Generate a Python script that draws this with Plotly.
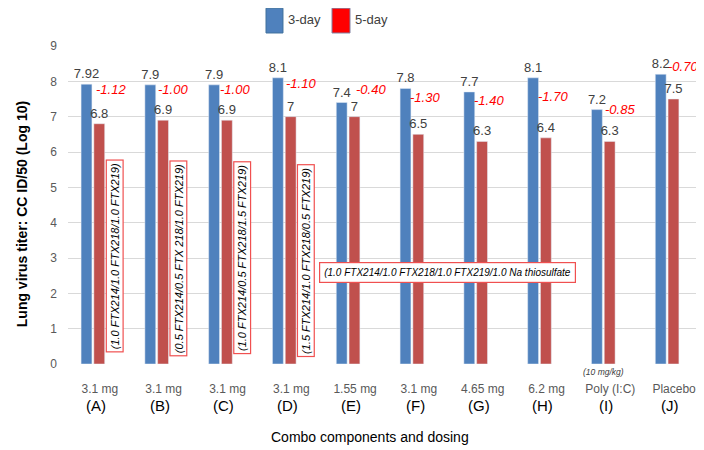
import plotly.graph_objects as go

doses = ['3.1 mg', '3.1 mg', '3.1 mg', '3.1 mg', '1.55 mg', '3.1 mg', '4.65 mg', '6.2 mg', 'Poly (I:C)', 'Placebo']
letters = ['(A)', '(B)', '(C)', '(D)', '(E)', '(F)', '(G)', '(H)', '(I)', '(J)']
day3 = [7.92, 7.9, 7.9, 8.1, 7.4, 7.8, 7.7, 8.1, 7.2, 8.2]
day5 = [6.8, 6.9, 6.9, 7, 7, 6.5, 6.3, 6.4, 6.3, 7.5]
change = [-1.12, -1.00, -1.00, -1.10, -0.40, -1.30, -1.40, -1.70, -0.85, -0.70]
combos = ['(1.0 FTX214/1.0 FTX218/1.0 FTX219)',
          '(0.5 FTX214/0.5 FTX 218/1.0 FTX219)',
          '(1.0 FTX214/0.5 FTX218/1.5 FTX219)',
          '(1.5 FTX214/1.0 FTX218/0.5 FTX219)']
combo_e = '(1.0 FTX214/1.0 FTX218/1.0 FTX219/1.0 Na thiosulfate'

# where the hand placed labels sit (x offset from group centre, y in data units)
change_dx = [0.025, -0.008, -0.032, -0.007, 0.09, -0.06, -0.06, -0.06, -0.007, -0.015]
change_y = [7.76, 7.76, 7.76, 7.93, 7.76, 7.53, 7.47, 7.56, 7.19, 8.41]
combo_y = [3.06, 3.0, 3.0, 2.94]

idx = list(range(len(doses)))
font = 'Liberation Sans, Arial, sans-serif'

fig = go.Figure()
fig.add_trace(go.Bar(x=idx, y=day3, name='3-day', marker_color='#4F81BD',
                     texttemplate='%{y}', textposition='outside', constraintext='none',
                     cliponaxis=False, textfont=dict(size=13, color='#404040')))
fig.add_trace(go.Bar(x=idx, y=day5, name='5-day', marker_color='#C0504D',
                     texttemplate='%{y}', textposition='outside', constraintext='none',
                     cliponaxis=False, textfont=dict(size=13, color='#404040')))

ann = []
for i, c in enumerate(change):
    ann.append(dict(x=i + change_dx[i], y=change_y[i], text='%.2f' % c, showarrow=False,
                    xanchor='left', yanchor='middle',
                    font=dict(size=13, color='#FF0000', family=font, style='italic')))

for i, t in enumerate(combos):
    ann.append(dict(x=i + 0.34, y=combo_y[i], text=t, textangle=-90, showarrow=False,
                    bgcolor='white', bordercolor='#F05050', borderwidth=1.2, borderpad=2,
                    font=dict(size=11, color='black', family=font, style='italic')))
ann.append(dict(x=5.555, y=2.6, text=combo_e, showarrow=False,
                bgcolor='white', bordercolor='#F05050', borderwidth=1.2, borderpad=4,
                font=dict(size=10, color='black', family=font, style='italic')))

for i, l in enumerate(letters):
    ann.append(dict(x=i + 0.05, xref='x', y=0, yref='paper', yshift=-41, text=l,
                    showarrow=False, yanchor='middle',
                    font=dict(size=15, color='black', family=font)))
ann.append(dict(x=8, xref='x', y=-0.024, yref='paper', text='(10 mg/kg)', showarrow=False,
                yanchor='middle', font=dict(size=8.5, color='#404040', family=font, style='italic')))

ann.append(dict(x=0.479, y=-0.2286, xref='paper', yref='paper', text='Combo components and dosing',
                showarrow=False, xanchor='center', yanchor='middle',
                font=dict(size=14, color='black', family=font)))
ann.append(dict(x=-0.0734, y=0.47, xref='paper', yref='paper', textangle=-90, showarrow=False,
                xanchor='center', yanchor='middle',
                text='<b>Lung virus titer: CC ID/50 (Log 10)</b>',
                font=dict(size=14, color='black', family=font)))

# legend drawn by hand, big swatches like the original
ann.append(dict(x=0.3455, y=1.0818, xref='paper', yref='paper', text='3-day', showarrow=False,
                xanchor='left', yanchor='middle', font=dict(size=13, color='#404040', family=font)))
ann.append(dict(x=0.4517, y=1.0818, xref='paper', yref='paper', text='5-day', showarrow=False,
                xanchor='left', yanchor='middle', font=dict(size=13, color='#404040', family=font)))
shapes = [
    dict(type='rect', xref='paper', yref='paper', x0=0.3138, x1=0.3407, y0=1.0409, y1=1.119,
         fillcolor='#4F81BD', line=dict(color='#41719C', width=1)),
    dict(type='rect', xref='paper', yref='paper', x0=0.4184, x1=0.4469, y0=1.0409, y1=1.119,
         fillcolor='#FF0000', line=dict(color='#8080A0', width=1)),
]

# page body has an 8px margin, so the figure is a little smaller than the window
fig.update_layout(
    width=696, height=442,
    margin=dict(l=60, r=5, t=38, b=86),
    barmode='group', bargap=0.6, bargroupgap=0.15,
    showlegend=False,
    plot_bgcolor='white', paper_bgcolor='white',
    font=dict(family=font),
    annotations=ann, shapes=shapes,
    xaxis=dict(range=[-0.39, 9.5], tickvals=[i + 0.11 for i in idx], ticktext=doses,
               showgrid=False, zeroline=False, ticks='', ticklabelstandoff=16,
               tickfont=dict(size=12, color='#595959')),
    yaxis=dict(range=[0, 9], tickvals=list(range(10)), gridcolor='#D9D9D9', gridwidth=1,
               zeroline=False, ticks='', ticklabelstandoff=10,
               tickfont=dict(size=12, color='#595959')),
)

fig.write_html('out.html')
